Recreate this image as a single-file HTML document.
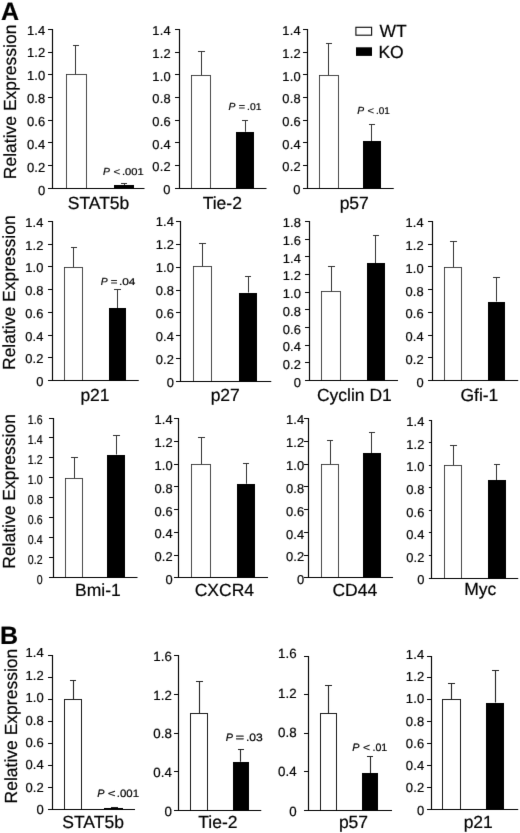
<!DOCTYPE html>
<html><head><meta charset="utf-8"><title>Figure</title>
<style>
html,body{margin:0;padding:0;background:#fff;}
body{width:520px;height:833px;overflow:hidden;}
svg{display:block;}
svg text{font-family:"Liberation Sans",sans-serif;fill:#000;stroke:#000;stroke-width:0.2px;text-rendering:geometricPrecision;}
</style></head>
<body>
<svg width="520" height="833" viewBox="0 0 520 833">
<defs><filter id="soft" x="0" y="0" width="520" height="833" filterUnits="userSpaceOnUse" color-interpolation-filters="sRGB"><feConvolveMatrix order="3" kernelMatrix="0 2 0 2 20 2 0 2 0" divisor="28" edgeMode="duplicate" preserveAlpha="true"/></filter></defs>
<g filter="url(#soft)">
<rect width="520" height="833" fill="#fff"/>
<path d="M75.5 74.5V45.5M73 45.5H79" stroke="#333" stroke-width="1.0" fill="none"/>
<rect x="66.5" y="74.5" width="20" height="114" fill="#fff" stroke="#2a2a2a" stroke-width="0.85"/>
<path d="M124.5 185V183.5M121 183.5H127" stroke="#333" stroke-width="1.0" fill="none"/>
<rect x="114" y="185" width="20" height="3.5" fill="#000"/>
<path d="M52.5 29V188.5M48 188.5H144.5M48 165.5H52.5M48 142.5H52.5M48 120.5H52.5M48 97.5H52.5M48 74.5H52.5M48 52.5H52.5M48 29.5H52.5" stroke="#000" stroke-width="1.15" fill="none"/>
<text transform="translate(45.5 194.58) scale(1 1)" font-size="13.0" text-anchor="end" letter-spacing="0.15" stroke-width="0.2">0</text>
<text transform="translate(45.5 171.72) scale(1 1)" font-size="13.0" text-anchor="end" letter-spacing="0.15" stroke-width="0.2">0.2</text>
<text transform="translate(45.5 148.87) scale(1 1)" font-size="13.0" text-anchor="end" letter-spacing="0.15" stroke-width="0.2">0.4</text>
<text transform="translate(45.5 126.01) scale(1 1)" font-size="13.0" text-anchor="end" letter-spacing="0.15" stroke-width="0.2">0.6</text>
<text transform="translate(45.5 103.15) scale(1 1)" font-size="13.0" text-anchor="end" letter-spacing="0.15" stroke-width="0.2">0.8</text>
<text transform="translate(45.5 80.29) scale(1 1)" font-size="13.0" text-anchor="end" letter-spacing="0.15" stroke-width="0.2">1.0</text>
<text transform="translate(45.5 57.44) scale(1 1)" font-size="13.0" text-anchor="end" letter-spacing="0.15" stroke-width="0.2">1.2</text>
<text transform="translate(45.5 34.58) scale(1 1)" font-size="13.0" text-anchor="end" letter-spacing="0.15" stroke-width="0.2">1.4</text>
<text x="98.5" y="209.3" font-size="17.5" text-anchor="middle">STAT5b</text>
<text x="103.03" y="174.9" font-size="10.3" font-style="italic">P</text>
<text x="113.4" y="174.9" font-size="9.8" textLength="6.7" lengthAdjust="spacingAndGlyphs">&lt;</text>
<text x="121.92" y="174.9" font-size="9.8" textLength="21.78" lengthAdjust="spacingAndGlyphs">.001</text>
<path d="M201.5 75V51.5M198 51.5H205" stroke="#333" stroke-width="1.0" fill="none"/>
<rect x="191.5" y="75.5" width="19" height="113" fill="#fff" stroke="#2a2a2a" stroke-width="0.85"/>
<path d="M245.5 131.75V120.5M242 120.5H248" stroke="#333" stroke-width="1.0" fill="none"/>
<rect x="236" y="132" width="18" height="56.5" fill="#000"/>
<path d="M179.5 29V188.5M175 188.5H266.5M175 165.5H179.5M175 142.5H179.5M175 120.5H179.5M175 97.5H179.5M175 74.5H179.5M175 52.5H179.5M175 29.5H179.5" stroke="#000" stroke-width="1.15" fill="none"/>
<text transform="translate(170.7 194.14) scale(1 1)" font-size="12.9" text-anchor="end" letter-spacing="0.15" stroke-width="0.2">0</text>
<text transform="translate(170.7 171.46) scale(1 1)" font-size="12.9" text-anchor="end" letter-spacing="0.15" stroke-width="0.2">0.2</text>
<text transform="translate(170.7 148.77) scale(1 1)" font-size="12.9" text-anchor="end" letter-spacing="0.15" stroke-width="0.2">0.4</text>
<text transform="translate(170.7 126.09) scale(1 1)" font-size="12.9" text-anchor="end" letter-spacing="0.15" stroke-width="0.2">0.6</text>
<text transform="translate(170.7 103.4) scale(1 1)" font-size="12.9" text-anchor="end" letter-spacing="0.15" stroke-width="0.2">0.8</text>
<text transform="translate(170.7 80.72) scale(1 1)" font-size="12.9" text-anchor="end" letter-spacing="0.15" stroke-width="0.2">1.0</text>
<text transform="translate(170.7 58.03) scale(1 1)" font-size="12.9" text-anchor="end" letter-spacing="0.15" stroke-width="0.2">1.2</text>
<text transform="translate(170.7 35.34) scale(1 1)" font-size="12.9" text-anchor="end" letter-spacing="0.15" stroke-width="0.2">1.4</text>
<text x="222.3" y="209.3" font-size="17.5" text-anchor="middle">Tie-2</text>
<text x="228.53" y="109.9" font-size="10.3" font-style="italic">P</text>
<text x="238.7" y="109.9" font-size="9.8" textLength="6.3" lengthAdjust="spacingAndGlyphs">=</text>
<text x="247.02" y="109.9" font-size="9.8" textLength="14.38" lengthAdjust="spacingAndGlyphs">.01</text>
<path d="M328.5 75V43.5M326 43.5H332" stroke="#333" stroke-width="1.0" fill="none"/>
<rect x="319.5" y="75.5" width="19" height="113" fill="#fff" stroke="#2a2a2a" stroke-width="0.85"/>
<path d="M371.5 141.25V124.5M369 124.5H375" stroke="#333" stroke-width="1.0" fill="none"/>
<rect x="363" y="141" width="18" height="47.5" fill="#000"/>
<path d="M307.5 29V188.5M303 188.5H393.75M303 165.5H307.5M303 142.5H307.5M303 120.5H307.5M303 97.5H307.5M303 74.5H307.5M303 52.5H307.5M303 29.5H307.5" stroke="#000" stroke-width="1.15" fill="none"/>
<text transform="translate(300.7 193.84) scale(1 1)" font-size="12.9" text-anchor="end" letter-spacing="0.15" stroke-width="0.2">0</text>
<text transform="translate(300.7 171.19) scale(1 1)" font-size="12.9" text-anchor="end" letter-spacing="0.15" stroke-width="0.2">0.2</text>
<text transform="translate(300.7 148.53) scale(1 1)" font-size="12.9" text-anchor="end" letter-spacing="0.15" stroke-width="0.2">0.4</text>
<text transform="translate(300.7 125.87) scale(1 1)" font-size="12.9" text-anchor="end" letter-spacing="0.15" stroke-width="0.2">0.6</text>
<text transform="translate(300.7 103.22) scale(1 1)" font-size="12.9" text-anchor="end" letter-spacing="0.15" stroke-width="0.2">0.8</text>
<text transform="translate(300.7 80.56) scale(1 1)" font-size="12.9" text-anchor="end" letter-spacing="0.15" stroke-width="0.2">1.0</text>
<text transform="translate(300.7 57.9) scale(1 1)" font-size="12.9" text-anchor="end" letter-spacing="0.15" stroke-width="0.2">1.2</text>
<text transform="translate(300.7 35.24) scale(1 1)" font-size="12.9" text-anchor="end" letter-spacing="0.15" stroke-width="0.2">1.4</text>
<text x="354.25" y="209.3" font-size="17.5" text-anchor="middle">p57</text>
<text x="357.13" y="114.4" font-size="10.3" font-style="italic">P</text>
<text x="367.6" y="114.4" font-size="9.8" textLength="6.5" lengthAdjust="spacingAndGlyphs">&lt;</text>
<text x="376.02" y="114.4" font-size="9.8" textLength="13.88" lengthAdjust="spacingAndGlyphs">.01</text>
<path d="M73.5 267V247.5M71 247.5H77" stroke="#333" stroke-width="1.0" fill="none"/>
<rect x="64.5" y="267.5" width="18" height="113" fill="#fff" stroke="#2a2a2a" stroke-width="0.85"/>
<path d="M117.5 308V289.5M114 289.5H121" stroke="#333" stroke-width="1.0" fill="none"/>
<rect x="109" y="308" width="17" height="72.5" fill="#000"/>
<path d="M52.5 221V380.5M48 380.5H138.75M48 357.5H52.5M48 335.5H52.5M48 312.5H52.5M48 289.5H52.5M48 266.5H52.5M48 244.5H52.5M48 221.5H52.5" stroke="#000" stroke-width="1.15" fill="none"/>
<text transform="translate(43.5 385.84) scale(1 1)" font-size="12.9" text-anchor="end" letter-spacing="0.15" stroke-width="0.2">0</text>
<text transform="translate(43.5 363.17) scale(1 1)" font-size="12.9" text-anchor="end" letter-spacing="0.15" stroke-width="0.2">0.2</text>
<text transform="translate(43.5 340.5) scale(1 1)" font-size="12.9" text-anchor="end" letter-spacing="0.15" stroke-width="0.2">0.4</text>
<text transform="translate(43.5 317.83) scale(1 1)" font-size="12.9" text-anchor="end" letter-spacing="0.15" stroke-width="0.2">0.6</text>
<text transform="translate(43.5 295.16) scale(1 1)" font-size="12.9" text-anchor="end" letter-spacing="0.15" stroke-width="0.2">0.8</text>
<text transform="translate(43.5 272.49) scale(1 1)" font-size="12.9" text-anchor="end" letter-spacing="0.15" stroke-width="0.2">1.0</text>
<text transform="translate(43.5 249.82) scale(1 1)" font-size="12.9" text-anchor="end" letter-spacing="0.15" stroke-width="0.2">1.2</text>
<text transform="translate(43.5 227.14) scale(1 1)" font-size="12.9" text-anchor="end" letter-spacing="0.15" stroke-width="0.2">1.4</text>
<text x="95" y="400.8" font-size="17.5" text-anchor="middle">p21</text>
<text x="100.68" y="285.4" font-size="10.3" font-style="italic">P</text>
<text x="110.7" y="285.4" font-size="9.8" textLength="6.7" lengthAdjust="spacingAndGlyphs">=</text>
<text x="118.92" y="285.4" font-size="9.8" textLength="16.48" lengthAdjust="spacingAndGlyphs">.04</text>
<path d="M202.5 266.6V243.5M199 243.5H206" stroke="#333" stroke-width="1.0" fill="none"/>
<rect x="193.5" y="266.5" width="18" height="115" fill="#fff" stroke="#2a2a2a" stroke-width="0.85"/>
<path d="M248.5 292.5V276.5M245 276.5H251" stroke="#333" stroke-width="1.0" fill="none"/>
<rect x="239" y="293" width="18" height="88.5" fill="#000"/>
<path d="M180.5 221V381.5M176 381.5H271.25M176 358.5H180.5M176 335.5H180.5M176 312.5H180.5M176 290.5H180.5M176 267.5H180.5M176 244.5H180.5M176 221.5H180.5" stroke="#000" stroke-width="1.15" fill="none"/>
<text transform="translate(174 386.74) scale(1 1)" font-size="12.9" text-anchor="end" letter-spacing="0.15" stroke-width="0.2">0</text>
<text transform="translate(174 363.84) scale(1 1)" font-size="12.9" text-anchor="end" letter-spacing="0.15" stroke-width="0.2">0.2</text>
<text transform="translate(174 340.94) scale(1 1)" font-size="12.9" text-anchor="end" letter-spacing="0.15" stroke-width="0.2">0.4</text>
<text transform="translate(174 318.04) scale(1 1)" font-size="12.9" text-anchor="end" letter-spacing="0.15" stroke-width="0.2">0.6</text>
<text transform="translate(174 295.14) scale(1 1)" font-size="12.9" text-anchor="end" letter-spacing="0.15" stroke-width="0.2">0.8</text>
<text transform="translate(174 272.24) scale(1 1)" font-size="12.9" text-anchor="end" letter-spacing="0.15" stroke-width="0.2">1.0</text>
<text transform="translate(174 249.34) scale(1 1)" font-size="12.9" text-anchor="end" letter-spacing="0.15" stroke-width="0.2">1.2</text>
<text transform="translate(174 226.44) scale(1 1)" font-size="12.9" text-anchor="end" letter-spacing="0.15" stroke-width="0.2">1.4</text>
<text x="225.25" y="400.8" font-size="17.5" text-anchor="middle">p27</text>
<path d="M331.5 291.75V266.5M328 266.5H335" stroke="#333" stroke-width="1.0" fill="none"/>
<rect x="321.5" y="291.5" width="19" height="89" fill="#fff" stroke="#2a2a2a" stroke-width="0.85"/>
<path d="M375.5 263V235.5M373 235.5H379" stroke="#333" stroke-width="1.0" fill="none"/>
<rect x="367" y="263" width="18" height="117.5" fill="#000"/>
<path d="M309.5 221V380.5M305 380.5H398M305 362.5H309.5M305 345.5H309.5M305 327.5H309.5M305 309.5H309.5M305 292.5H309.5M305 274.5H309.5M305 256.5H309.5M305 239.5H309.5M305 221.5H309.5" stroke="#000" stroke-width="1.15" fill="none"/>
<text transform="translate(301 386.84) scale(1 1)" font-size="12.9" text-anchor="end" letter-spacing="0.15" stroke-width="0.2">0</text>
<text transform="translate(301 369.1) scale(1 1)" font-size="12.9" text-anchor="end" letter-spacing="0.15" stroke-width="0.2">0.2</text>
<text transform="translate(301 351.36) scale(1 1)" font-size="12.9" text-anchor="end" letter-spacing="0.15" stroke-width="0.2">0.4</text>
<text transform="translate(301 333.61) scale(1 1)" font-size="12.9" text-anchor="end" letter-spacing="0.15" stroke-width="0.2">0.6</text>
<text transform="translate(301 315.87) scale(1 1)" font-size="12.9" text-anchor="end" letter-spacing="0.15" stroke-width="0.2">0.8</text>
<text transform="translate(301 298.12) scale(1 1)" font-size="12.9" text-anchor="end" letter-spacing="0.15" stroke-width="0.2">1.0</text>
<text transform="translate(301 280.38) scale(1 1)" font-size="12.9" text-anchor="end" letter-spacing="0.15" stroke-width="0.2">1.2</text>
<text transform="translate(301 262.63) scale(1 1)" font-size="12.9" text-anchor="end" letter-spacing="0.15" stroke-width="0.2">1.4</text>
<text transform="translate(301 244.89) scale(1 1)" font-size="12.9" text-anchor="end" letter-spacing="0.15" stroke-width="0.2">1.6</text>
<text transform="translate(301 227.14) scale(1 1)" font-size="12.9" text-anchor="end" letter-spacing="0.15" stroke-width="0.2">1.8</text>
<text x="354.4" y="400.8" font-size="17.5" text-anchor="middle">Cyclin D1</text>
<path d="M453.5 267V241.5M450 241.5H457" stroke="#333" stroke-width="1.0" fill="none"/>
<rect x="444.5" y="267.5" width="17" height="113" fill="#fff" stroke="#2a2a2a" stroke-width="0.85"/>
<path d="M496.5 301.5V277.5M493 277.5H500" stroke="#333" stroke-width="1.0" fill="none"/>
<rect x="488" y="302" width="17" height="78.5" fill="#000"/>
<path d="M432.5 221V380.5M428 380.5H518.2M428 357.5H432.5M428 335.5H432.5M428 312.5H432.5M428 289.5H432.5M428 266.5H432.5M428 244.5H432.5M428 221.5H432.5" stroke="#000" stroke-width="1.15" fill="none"/>
<text transform="translate(423.75 386.84) scale(1 1)" font-size="12.9" text-anchor="end" letter-spacing="0.15" stroke-width="0.2">0</text>
<text transform="translate(423.75 364.03) scale(1 1)" font-size="12.9" text-anchor="end" letter-spacing="0.15" stroke-width="0.2">0.2</text>
<text transform="translate(423.75 341.22) scale(1 1)" font-size="12.9" text-anchor="end" letter-spacing="0.15" stroke-width="0.2">0.4</text>
<text transform="translate(423.75 318.4) scale(1 1)" font-size="12.9" text-anchor="end" letter-spacing="0.15" stroke-width="0.2">0.6</text>
<text transform="translate(423.75 295.59) scale(1 1)" font-size="12.9" text-anchor="end" letter-spacing="0.15" stroke-width="0.2">0.8</text>
<text transform="translate(423.75 272.77) scale(1 1)" font-size="12.9" text-anchor="end" letter-spacing="0.15" stroke-width="0.2">1.0</text>
<text transform="translate(423.75 249.96) scale(1 1)" font-size="12.9" text-anchor="end" letter-spacing="0.15" stroke-width="0.2">1.2</text>
<text transform="translate(423.75 227.14) scale(1 1)" font-size="12.9" text-anchor="end" letter-spacing="0.15" stroke-width="0.2">1.4</text>
<text x="479.4" y="400.8" font-size="17.5" text-anchor="middle">Gfi-1</text>
<path d="M74.5 478V457.5M71 457.5H78" stroke="#333" stroke-width="1.0" fill="none"/>
<rect x="65.5" y="478.5" width="17" height="99" fill="#fff" stroke="#2a2a2a" stroke-width="0.85"/>
<path d="M116.5 454.5V435.5M113 435.5H120" stroke="#333" stroke-width="1.0" fill="none"/>
<rect x="107" y="455" width="18" height="122.5" fill="#000"/>
<path d="M53.5 418V577.5M49 577.5H137.5M49 557.5H53.5M49 537.5H53.5M49 517.5H53.5M49 497.5H53.5M49 477.5H53.5M49 457.5H53.5M49 437.5H53.5M49 418.5H53.5" stroke="#000" stroke-width="1.15" fill="none"/>
<text transform="translate(42.85 583.64) scale(0.82 1)" font-size="12.9" text-anchor="end" letter-spacing="0.15" stroke-width="0.2">0</text>
<text transform="translate(42.85 563.72) scale(0.82 1)" font-size="12.9" text-anchor="end" letter-spacing="0.15" stroke-width="0.2">0.2</text>
<text transform="translate(42.85 543.79) scale(0.82 1)" font-size="12.9" text-anchor="end" letter-spacing="0.15" stroke-width="0.2">0.4</text>
<text transform="translate(42.85 523.87) scale(0.82 1)" font-size="12.9" text-anchor="end" letter-spacing="0.15" stroke-width="0.2">0.6</text>
<text transform="translate(42.85 503.94) scale(0.82 1)" font-size="12.9" text-anchor="end" letter-spacing="0.15" stroke-width="0.2">0.8</text>
<text transform="translate(42.85 484.02) scale(0.82 1)" font-size="12.9" text-anchor="end" letter-spacing="0.15" stroke-width="0.2">1.0</text>
<text transform="translate(42.85 464.09) scale(0.82 1)" font-size="12.9" text-anchor="end" letter-spacing="0.15" stroke-width="0.2">1.2</text>
<text transform="translate(42.85 444.17) scale(0.82 1)" font-size="12.9" text-anchor="end" letter-spacing="0.15" stroke-width="0.2">1.4</text>
<text transform="translate(42.85 424.24) scale(0.82 1)" font-size="12.9" text-anchor="end" letter-spacing="0.15" stroke-width="0.2">1.6</text>
<text x="97.9" y="596.2" font-size="17.5" text-anchor="middle">Bmi-1</text>
<path d="M201.5 464.25V437.5M198 437.5H205" stroke="#333" stroke-width="1.0" fill="none"/>
<rect x="191.5" y="464.5" width="19" height="113" fill="#fff" stroke="#2a2a2a" stroke-width="0.85"/>
<path d="M246.5 483.75V463.5M243 463.5H249" stroke="#333" stroke-width="1.0" fill="none"/>
<rect x="237" y="484" width="18" height="93.5" fill="#000"/>
<path d="M178.5 418V577.5M174 577.5H268M174 555.5H178.5M174 532.5H178.5M174 509.5H178.5M174 486.5H178.5M174 464.5H178.5M174 441.5H178.5M174 418.5H178.5" stroke="#000" stroke-width="1.15" fill="none"/>
<text transform="translate(172.8 584.04) scale(1 1)" font-size="12.9" text-anchor="end" letter-spacing="0.15" stroke-width="0.2">0</text>
<text transform="translate(172.8 561.24) scale(1 1)" font-size="12.9" text-anchor="end" letter-spacing="0.15" stroke-width="0.2">0.2</text>
<text transform="translate(172.8 538.44) scale(1 1)" font-size="12.9" text-anchor="end" letter-spacing="0.15" stroke-width="0.2">0.4</text>
<text transform="translate(172.8 515.64) scale(1 1)" font-size="12.9" text-anchor="end" letter-spacing="0.15" stroke-width="0.2">0.6</text>
<text transform="translate(172.8 492.84) scale(1 1)" font-size="12.9" text-anchor="end" letter-spacing="0.15" stroke-width="0.2">0.8</text>
<text transform="translate(172.8 470.04) scale(1 1)" font-size="12.9" text-anchor="end" letter-spacing="0.15" stroke-width="0.2">1.0</text>
<text transform="translate(172.8 447.24) scale(1 1)" font-size="12.9" text-anchor="end" letter-spacing="0.15" stroke-width="0.2">1.2</text>
<text transform="translate(172.8 424.44) scale(1 1)" font-size="12.9" text-anchor="end" letter-spacing="0.15" stroke-width="0.2">1.4</text>
<text x="224.4" y="596.2" font-size="17.5" text-anchor="middle">CXCR4</text>
<path d="M330.5 464.25V440.5M327 440.5H333" stroke="#333" stroke-width="1.0" fill="none"/>
<rect x="321.5" y="464.5" width="17" height="113" fill="#fff" stroke="#2a2a2a" stroke-width="0.85"/>
<path d="M371.5 453.25V432.5M369 432.5H375" stroke="#333" stroke-width="1.0" fill="none"/>
<rect x="363" y="453" width="18" height="124.5" fill="#000"/>
<path d="M308.5 418V577.5M304 577.5H393M304 555.5H308.5M304 532.5H308.5M304 509.5H308.5M304 486.5H308.5M304 464.5H308.5M304 441.5H308.5M304 418.5H308.5" stroke="#000" stroke-width="1.15" fill="none"/>
<text transform="translate(304.25 584.14) scale(1 1)" font-size="12.9" text-anchor="end" letter-spacing="0.15" stroke-width="0.2">0</text>
<text transform="translate(304.25 561.33) scale(1 1)" font-size="12.9" text-anchor="end" letter-spacing="0.15" stroke-width="0.2">0.2</text>
<text transform="translate(304.25 538.52) scale(1 1)" font-size="12.9" text-anchor="end" letter-spacing="0.15" stroke-width="0.2">0.4</text>
<text transform="translate(304.25 515.7) scale(1 1)" font-size="12.9" text-anchor="end" letter-spacing="0.15" stroke-width="0.2">0.6</text>
<text transform="translate(304.25 492.89) scale(1 1)" font-size="12.9" text-anchor="end" letter-spacing="0.15" stroke-width="0.2">0.8</text>
<text transform="translate(304.25 470.07) scale(1 1)" font-size="12.9" text-anchor="end" letter-spacing="0.15" stroke-width="0.2">1.0</text>
<text transform="translate(304.25 447.26) scale(1 1)" font-size="12.9" text-anchor="end" letter-spacing="0.15" stroke-width="0.2">1.2</text>
<text transform="translate(304.25 424.44) scale(1 1)" font-size="12.9" text-anchor="end" letter-spacing="0.15" stroke-width="0.2">1.4</text>
<text x="354.75" y="596.2" font-size="17.5" text-anchor="middle">CD44</text>
<path d="M453.5 465V445.5M450 445.5H457" stroke="#333" stroke-width="1.0" fill="none"/>
<rect x="444.5" y="465.5" width="17" height="113" fill="#fff" stroke="#2a2a2a" stroke-width="0.85"/>
<path d="M496.5 480V464.5M494 464.5H500" stroke="#333" stroke-width="1.0" fill="none"/>
<rect x="488" y="480" width="18" height="98.5" fill="#000"/>
<path d="M431.5 420V578.5M428.9 578.5H518.2M428.9 555.5H431.5M428.9 532.5H431.5M428.9 510.5H431.5M428.9 487.5H431.5M428.9 465.5H431.5M428.9 442.5H431.5M428.9 420.5H431.5" stroke="#000" stroke-width="1.15" fill="none"/>
<text transform="translate(424.55 584.24) scale(1 1)" font-size="12.9" text-anchor="end" letter-spacing="0.15" stroke-width="0.2">0</text>
<text transform="translate(424.55 561.67) scale(1 1)" font-size="12.9" text-anchor="end" letter-spacing="0.15" stroke-width="0.2">0.2</text>
<text transform="translate(424.55 539.1) scale(1 1)" font-size="12.9" text-anchor="end" letter-spacing="0.15" stroke-width="0.2">0.4</text>
<text transform="translate(424.55 516.53) scale(1 1)" font-size="12.9" text-anchor="end" letter-spacing="0.15" stroke-width="0.2">0.6</text>
<text transform="translate(424.55 493.96) scale(1 1)" font-size="12.9" text-anchor="end" letter-spacing="0.15" stroke-width="0.2">0.8</text>
<text transform="translate(424.55 471.39) scale(1 1)" font-size="12.9" text-anchor="end" letter-spacing="0.15" stroke-width="0.2">1.0</text>
<text transform="translate(424.55 448.82) scale(1 1)" font-size="12.9" text-anchor="end" letter-spacing="0.15" stroke-width="0.2">1.2</text>
<text transform="translate(424.55 426.24) scale(1 1)" font-size="12.9" text-anchor="end" letter-spacing="0.15" stroke-width="0.2">1.4</text>
<text x="480.25" y="594.8" font-size="17.5" text-anchor="middle">Myc</text>
<path d="M73.5 699V680.5M70 680.5H76" stroke="#222" stroke-width="1.1" fill="none"/>
<rect x="64.5" y="699.5" width="17" height="110" fill="#fff" stroke="#1a1a1a" stroke-width="1.0"/>
<path d="M114.5 808V807.5M111 807.5H118" stroke="#222" stroke-width="1.1" fill="none"/>
<rect x="104" y="808" width="19" height="1.5" fill="#000"/>
<path d="M52.5 655V809.5M48 809.5H135M48 787.5H52.5M48 765.5H52.5M48 743.5H52.5M48 721.5H52.5M48 699.5H52.5M48 677.5H52.5M48 655.5H52.5" stroke="#000" stroke-width="1.15" fill="none"/>
<text transform="translate(44 814.18) scale(1 1)" font-size="13.0" text-anchor="end" letter-spacing="0.15" stroke-width="0.1">0</text>
<text transform="translate(44 791.78) scale(1 1)" font-size="13.0" text-anchor="end" letter-spacing="0.15" stroke-width="0.1">0.2</text>
<text transform="translate(44 769.38) scale(1 1)" font-size="13.0" text-anchor="end" letter-spacing="0.15" stroke-width="0.1">0.4</text>
<text transform="translate(44 746.98) scale(1 1)" font-size="13.0" text-anchor="end" letter-spacing="0.15" stroke-width="0.1">0.6</text>
<text transform="translate(44 724.58) scale(1 1)" font-size="13.0" text-anchor="end" letter-spacing="0.15" stroke-width="0.1">0.8</text>
<text transform="translate(44 702.18) scale(1 1)" font-size="13.0" text-anchor="end" letter-spacing="0.15" stroke-width="0.1">1.0</text>
<text transform="translate(44 679.78) scale(1 1)" font-size="13.0" text-anchor="end" letter-spacing="0.15" stroke-width="0.1">1.2</text>
<text transform="translate(44 657.38) scale(1 1)" font-size="13.0" text-anchor="end" letter-spacing="0.15" stroke-width="0.1">1.4</text>
<text x="93.1" y="828" font-size="17.5" text-anchor="middle">STAT5b</text>
<text x="97.21" y="796.8" font-size="10.8" font-style="italic">P</text>
<text x="107.8" y="796.8" font-size="10.6" textLength="7.8" lengthAdjust="spacingAndGlyphs">&lt;</text>
<text x="116.85" y="796.8" font-size="10.6" textLength="22.25" lengthAdjust="spacingAndGlyphs">.001</text>
<path d="M199.5 713.75V681.5M196 681.5H203" stroke="#222" stroke-width="1.1" fill="none"/>
<rect x="190.5" y="713.5" width="17" height="97" fill="#fff" stroke="#1a1a1a" stroke-width="1.0"/>
<path d="M240.5 761.75V749.5M238 749.5H244" stroke="#222" stroke-width="1.1" fill="none"/>
<rect x="233" y="762" width="16" height="48.5" fill="#000"/>
<path d="M178.5 655V810.5M174 810.5H261.25M174 771.5H178.5M174 733.5H178.5M174 694.5H178.5M174 655.5H178.5" stroke="#000" stroke-width="1.15" fill="none"/>
<text transform="translate(172.15 815.79) scale(1 1)" font-size="13.3" text-anchor="end" letter-spacing="0.15" stroke-width="0.1">0</text>
<text transform="translate(172.15 777.1) scale(1 1)" font-size="13.3" text-anchor="end" letter-spacing="0.15" stroke-width="0.1">0.4</text>
<text transform="translate(172.15 738.41) scale(1 1)" font-size="13.3" text-anchor="end" letter-spacing="0.15" stroke-width="0.1">0.8</text>
<text transform="translate(172.15 699.73) scale(1 1)" font-size="13.3" text-anchor="end" letter-spacing="0.15" stroke-width="0.1">1.2</text>
<text transform="translate(172.15 661.04) scale(1 1)" font-size="13.3" text-anchor="end" letter-spacing="0.15" stroke-width="0.1">1.6</text>
<text x="217.9" y="828" font-size="17.5" text-anchor="middle">Tie-2</text>
<text x="225.66" y="741.3" font-size="10.8" font-style="italic">P</text>
<text x="235.4" y="741.3" font-size="10.6" textLength="8.7" lengthAdjust="spacingAndGlyphs">=</text>
<text x="245.95" y="741.3" font-size="10.6" textLength="16.85" lengthAdjust="spacingAndGlyphs">.03</text>
<path d="M328.5 713.5V685.5M325 685.5H332" stroke="#222" stroke-width="1.1" fill="none"/>
<rect x="320.5" y="713.5" width="16" height="97" fill="#fff" stroke="#1a1a1a" stroke-width="1.0"/>
<path d="M370.5 773V756.5M367 756.5H373" stroke="#222" stroke-width="1.1" fill="none"/>
<rect x="362" y="773" width="16" height="37.5" fill="#000"/>
<path d="M308.5 656V810.5M304 810.5H392M304 771.5H308.5M304 733.5H308.5M304 694.5H308.5M304 656.5H308.5" stroke="#000" stroke-width="1.15" fill="none"/>
<text transform="translate(296.9 815.79) scale(1 1)" font-size="13.3" text-anchor="end" letter-spacing="0.15" stroke-width="0.1">0</text>
<text transform="translate(296.9 776.44) scale(1 1)" font-size="13.3" text-anchor="end" letter-spacing="0.15" stroke-width="0.1">0.4</text>
<text transform="translate(296.9 737.09) scale(1 1)" font-size="13.3" text-anchor="end" letter-spacing="0.15" stroke-width="0.1">0.8</text>
<text transform="translate(296.9 697.74) scale(1 1)" font-size="13.3" text-anchor="end" letter-spacing="0.15" stroke-width="0.1">1.2</text>
<text transform="translate(296.9 658.39) scale(1 1)" font-size="13.3" text-anchor="end" letter-spacing="0.15" stroke-width="0.1">1.6</text>
<text x="353.5" y="828" font-size="17.5" text-anchor="middle">p57</text>
<text x="352.31" y="751.2" font-size="10.8" font-style="italic">P</text>
<text x="363" y="751.2" font-size="10.6" textLength="7" lengthAdjust="spacingAndGlyphs">&lt;</text>
<text x="372.45" y="751.2" font-size="10.6" textLength="14.85" lengthAdjust="spacingAndGlyphs">.01</text>
<path d="M451.5 699.75V683.5M448 683.5H455" stroke="#222" stroke-width="1.1" fill="none"/>
<rect x="442.5" y="699.5" width="18" height="110" fill="#fff" stroke="#1a1a1a" stroke-width="1.0"/>
<path d="M495.5 702.5V670.5M492 670.5H499" stroke="#222" stroke-width="1.1" fill="none"/>
<rect x="486" y="703" width="18" height="106.5" fill="#000"/>
<path d="M431.5 656V809.5M427 809.5H518.2M427 787.5H431.5M427 765.5H431.5M427 743.5H431.5M427 721.5H431.5M427 699.5H431.5M427 677.5H431.5M427 656.5H431.5" stroke="#000" stroke-width="1.15" fill="none"/>
<text transform="translate(424.4 814.63) scale(1 1)" font-size="13.0" text-anchor="end" letter-spacing="0.15" stroke-width="0.1">0</text>
<text transform="translate(424.4 792.38) scale(1 1)" font-size="13.0" text-anchor="end" letter-spacing="0.15" stroke-width="0.1">0.2</text>
<text transform="translate(424.4 770.13) scale(1 1)" font-size="13.0" text-anchor="end" letter-spacing="0.15" stroke-width="0.1">0.4</text>
<text transform="translate(424.4 747.88) scale(1 1)" font-size="13.0" text-anchor="end" letter-spacing="0.15" stroke-width="0.1">0.6</text>
<text transform="translate(424.4 725.63) scale(1 1)" font-size="13.0" text-anchor="end" letter-spacing="0.15" stroke-width="0.1">0.8</text>
<text transform="translate(424.4 703.38) scale(1 1)" font-size="13.0" text-anchor="end" letter-spacing="0.15" stroke-width="0.1">1.0</text>
<text transform="translate(424.4 681.13) scale(1 1)" font-size="13.0" text-anchor="end" letter-spacing="0.15" stroke-width="0.1">1.2</text>
<text transform="translate(424.4 658.88) scale(1 1)" font-size="13.0" text-anchor="end" letter-spacing="0.15" stroke-width="0.1">1.4</text>
<text x="478.25" y="828" font-size="17.5" text-anchor="middle">p21</text>
<text transform="translate(15.6 179.2) rotate(-90)" font-size="17.5">Relative Expression</text>
<text transform="translate(15.2 370) rotate(-90)" font-size="17.5">Relative Expression</text>
<text transform="translate(15.2 568.75) rotate(-90)" font-size="17.5">Relative Expression</text>
<text transform="translate(16.6 803.4) rotate(-90)" font-size="17.5">Relative Expression</text>
<text x="1.0" y="20.3" font-size="25" font-weight="bold">A</text>
<text x="0.1" y="643.5" font-size="25" font-weight="bold">B</text>
<rect x="355.9" y="27.3" width="15.7" height="7.9" fill="#fff" stroke="#111" stroke-width="1.15"/>
<rect x="356" y="47.3" width="16" height="8.6" fill="#000"/>
<text x="379.6" y="37" font-size="17.5">WT</text>
<text x="378.4" y="57.7" font-size="17.5">KO</text>
</g>
</svg>
</body></html>
